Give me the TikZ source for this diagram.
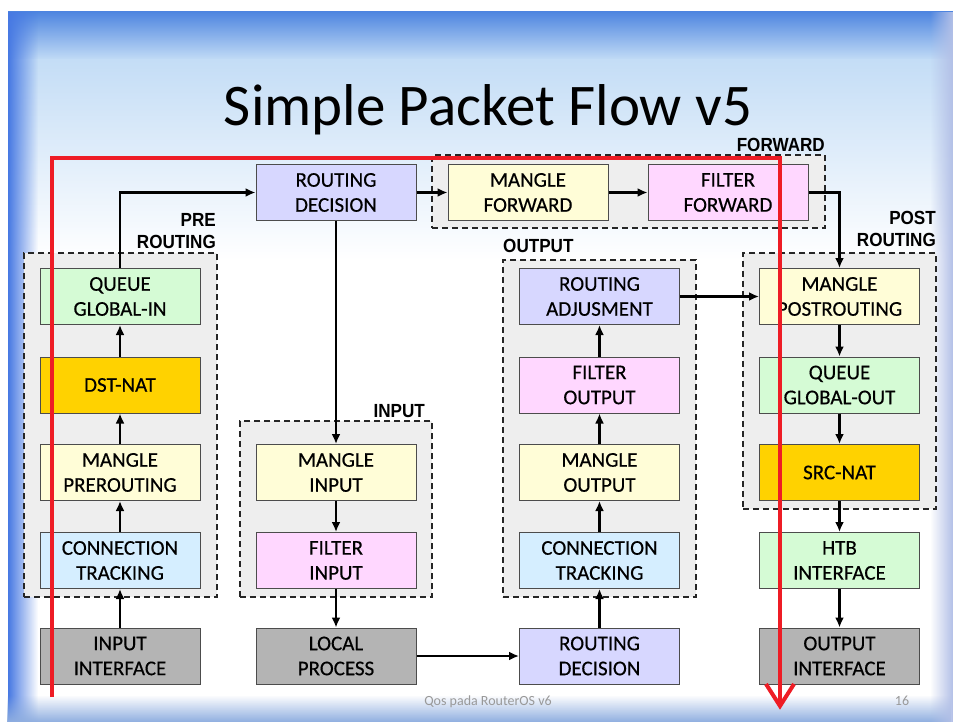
\documentclass[tikz,border=0pt]{standalone}
\usepackage{fontspec}
\setmainfont{Carlito}
\newfontfamily\boxfont[FakeBold=0.4]{Carlito}
\newfontfamily\labfont[FakeStretch=0.9]{Liberation Sans}
\usetikzlibrary{arrows.meta,fadings}
\tikzfading[name=fadeR, left color=transparent!0, right color=transparent!100]
\tikzfading[name=fadeL, left color=transparent!100, right color=transparent!0]
\tikzfading[name=fadeUp, top color=transparent!100, bottom color=transparent!0]
\definecolor{cqueue}{HTML}{D5FBD5}
\definecolor{cnat}{HTML}{FFD200}
\definecolor{cmangle}{HTML}{FFFDD7}
\definecolor{cconn}{HTML}{D5EEFF}
\definecolor{cfilter}{HTML}{FFD7FF}
\definecolor{croute}{HTML}{D7D7FF}
\definecolor{cgray}{HTML}{B4B4B4}
\definecolor{cgrp}{HTML}{EEEEEE}
\definecolor{credline}{HTML}{EE1C25}
\definecolor{skytop}{HTML}{4F86E0}
\definecolor{skymid}{HTML}{C4DDF6}
\definecolor{skylow}{HTML}{E6F1FB}
\begin{document}
\begin{tikzpicture}[x=1pt,y=-1pt,
  box/.style={draw=black!70, line width=1pt, minimum width=160pt, minimum height=56pt,
    align=center, inner sep=0pt, font=\boxfont\fontsize{21}{25}\selectfont},
  grp/.style={draw=black!85, line width=1.5pt, dash pattern=on 6pt off 4pt, fill=cgrp,
    inner sep=0pt},
  lab/.style={font=\labfont\bfseries\fontsize{19}{22}\selectfont, inner sep=0pt},
  arr/.style={line width=2.3pt, -{Latex[length=10pt,width=9pt]}},
  redpath/.style={draw=credline, line width=4pt}
]
\useasboundingbox (0,0) rectangle (953,722);
% slide background
\fill[white] (0,0) rectangle (953,722);
\shade[top color=skytop, bottom color=skymid] (8,12) rectangle (953,60.5);
\shade[top color=skymid, middle color=skylow, bottom color=white] (8,60) rectangle (953,260);
\fill[skytop!90!blue, path fading=fadeR] (8,12) rectangle (38,722);
\fill[cyan!50!blue!45, path fading=fadeUp] (8,695) rectangle (953,722);
\fill[cyan!40!blue!30, path fading=fadeL] (930,12) rectangle (953,722);

% title
\node[anchor=base, font=\fontsize{59}{64}\selectfont] (title) at (488,126) {Simple Packet Flow v5};

% groups
\node[grp, minimum width=193pt, minimum height=344pt] (gpre) at (120.5,425) {};
\node[grp, minimum width=192pt, minimum height=176pt] (ginp) at (336,509) {};
\node[grp, minimum width=193pt, minimum height=337pt] (gout) at (599.5,428.5) {};
\node[grp, minimum width=193pt, minimum height=256pt] (gpost) at (839.5,381) {};
\node[grp, minimum width=393pt, minimum height=73pt] (gfwd) at (628.5,191.5) {};

% group labels
\node[lab, anchor=south east] (lfwd) at (825,152) {FORWARD};
\node[lab, anchor=south east, align=right] (lpre) at (216,249) {PRE\\ROUTING};
\node[lab, anchor=south east, align=right] (lpost) at (936,247) {POST\\ROUTING};
\node[lab, anchor=south west] (lout) at (503,253) {OUTPUT};
\node[lab, anchor=south east] (linp) at (425,418) {INPUT};

% top row
\node[box, fill=croute] (rd1) at (336,192.5) {ROUTING\\DECISION};
\node[box, fill=cmangle] (mf) at (528,192.5) {MANGLE\\FORWARD};
\node[box, fill=cfilter] (ff) at (728,192.5) {FILTER\\FORWARD};

% prerouting column
\node[box, fill=cqueue] (qi) at (120,296.5) {QUEUE\\GLOBAL-IN};
\node[box, fill=cnat] (dn) at (120,385) {DST-NAT};
\node[box, fill=cmangle] (mpr) at (120,472.5) {MANGLE\\PREROUTING};
\node[box, fill=cconn] (ct1) at (120,560.5) {CONNECTION\\TRACKING};
\node[box, fill=cgray] (ii) at (120,656) {INPUT\\INTERFACE};

% input column
\node[box, fill=cmangle] (mi) at (336,472.5) {MANGLE\\INPUT};
\node[box, fill=cfilter] (fi) at (336,560.5) {FILTER\\INPUT};
\node[box, fill=cgray] (lp) at (336,656) {LOCAL\\PROCESS};

% output column
\node[box, fill=croute] (ra) at (599.5,296.5) {ROUTING\\ADJUSMENT};
\node[box, fill=cfilter] (fo) at (599.5,385) {FILTER\\OUTPUT};
\node[box, fill=cmangle] (mo) at (599.5,472.5) {MANGLE\\OUTPUT};
\node[box, fill=cconn] (ct2) at (599.5,560.5) {CONNECTION\\TRACKING};
\node[box, fill=croute] (rd2) at (599.5,656) {ROUTING\\DECISION};

% postrouting column
\node[box, fill=cmangle] (mp) at (839.5,296.5) {MANGLE\\POSTROUTING};
\node[box, fill=cqueue] (qo) at (839.5,385) {QUEUE\\GLOBAL-OUT};
\node[box, fill=cnat] (sn) at (839.5,472.5) {SRC-NAT};
\node[box, fill=cqueue] (htb) at (839.5,560.5) {HTB\\INTERFACE};
\node[box, fill=cgray] (oi) at (839.5,656) {OUTPUT\\INTERFACE};

% connectors
\draw[arr] (ii) -- (ct1);
\draw[arr] (ct1) -- (mpr);
\draw[arr] (mpr) -- (dn);
\draw[arr] (dn) -- (qi);
\draw[arr] (qi.north) |- (rd1.west);
\draw[arr] (rd1) -- (mf);
\draw[arr] (mf) -- (ff);
\draw[arr] (ff.east) -| (mp.north);
\draw[arr] (rd1) -- (mi);
\draw[arr] (mi) -- (fi);
\draw[arr] (fi) -- (lp);
\draw[arr] (lp) -- (rd2);
\draw[arr] (rd2) -- (ct2);
\draw[arr] (ct2) -- (mo);
\draw[arr] (mo) -- (fo);
\draw[arr] (fo) -- (ra);
\draw[arr] (ra) -- (mp);
\draw[arr] (mp) -- (qo);
\draw[arr] (qo) -- (sn);
\draw[arr] (sn) -- (htb);
\draw[arr] (htb) -- (oi);

% red overlay path
\coordinate (r1) at (52,697);
\coordinate (r2) at (52,158);
\coordinate (r3) at (780,158);
\coordinate (r4) at (780,706);
\coordinate (rw1) at (766,684);
\coordinate (rw2) at (794,684);
\draw[redpath, line join=miter] (r1) -- (r2) -- (r3) -- (r4);
\draw[redpath, line join=miter] (rw1) -- (r4) -- (rw2);

% footer
\node[anchor=base, text=black!40, font=\fontsize{14}{16}\selectfont] (foot) at (488,705) {Qos pada RouterOS v6};
\node[anchor=base, text=black!40, font=\fontsize{14}{16}\selectfont] (pg) at (902,705) {16};
\end{tikzpicture}
\end{document}
